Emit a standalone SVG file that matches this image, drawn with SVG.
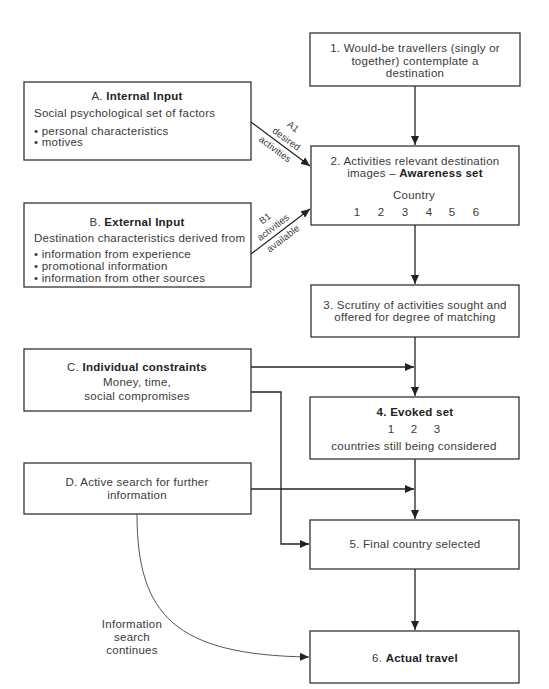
<svg xmlns="http://www.w3.org/2000/svg" width="549" height="689" viewBox="0 0 549 689">
<style>
.box{fill:#fff;stroke:#333;stroke-width:1.3}
text{font-family:"Liberation Sans",Arial,sans-serif;font-size:11.5px;letter-spacing:0.25px;fill:#3a3a3a}
.c{text-anchor:middle}
.b{font-weight:bold;fill:#222}
.lbl{font-size:9.5px;letter-spacing:0.1px}
.ln{fill:none;stroke:#222;stroke-width:1.3}
.cv{fill:none;stroke:#555;stroke-width:1}
</style>
<defs>
<marker id="ah" markerWidth="10" markerHeight="8" refX="9" refY="4" orient="auto" markerUnits="userSpaceOnUse">
<path d="M0,0 L9,4 L0,8 Z" fill="#222"/>
</marker>
</defs>
<rect width="549" height="689" fill="#fff"/>
<g id="connectors">
<path class="ln" d="M415,86 V145" marker-end="url(#ah)"/>
<path class="ln" d="M251,122 L310,166" marker-end="url(#ah)"/>
<path class="ln" d="M251,254 L310,209" marker-end="url(#ah)"/>
<path class="ln" d="M415,225 V284" marker-end="url(#ah)"/>
<path class="ln" d="M415,337 V396" marker-end="url(#ah)"/>
<path class="ln" d="M251,367 H414" marker-end="url(#ah)"/>
<path class="ln" d="M251,392 H281 V544 H309" marker-end="url(#ah)"/>
<path class="ln" d="M415,459 V519" marker-end="url(#ah)"/>
<path class="ln" d="M251,489 H414" marker-end="url(#ah)"/>
<path class="ln" d="M415,569 V630" marker-end="url(#ah)"/>
<path class="cv" d="M137,514 C137,615 175,655 309,657" marker-end="url(#ah)"/>
<g transform="translate(281,144.5) rotate(36.87)">
<text class="c lbl" x="-1" y="-18.5">A1</text>
<text class="c lbl" x="1" y="-4.5">desired</text>
<text class="c lbl" x="-2" y="10.5">activities</text>
</g>
<g transform="translate(281,231) rotate(-37.5)">
<text class="c lbl" x="-5" y="-16.5">B1</text>
<text class="c lbl" x="-4" y="-4.5">activities</text>
<text class="c lbl" x="-3" y="10.5">available</text>
</g>
<text class="c" x="132" y="628">Information</text>
<text class="c" x="132" y="641">search</text>
<text class="c" x="132" y="654">continues</text>
</g>
<g id="node1">
<rect class="box" x="310" y="33" width="210" height="53"/>
<text class="c" x="415" y="52">1. Would-be travellers (singly or</text>
<text class="c" x="415" y="65">together) contemplate a</text>
<text class="c" x="415" y="77">destination</text>
</g>
<g id="nodeA">
<rect class="box" x="24" y="82" width="227" height="78"/>
<text class="c" x="137" y="100">A. <tspan class="b">Internal Input</tspan></text>
<text x="34" y="117">Social psychological set of factors</text>
<text x="34" y="135">• personal characteristics</text>
<text x="34" y="146">• motives</text>
</g>
<g id="nodeB">
<rect class="box" x="24" y="203" width="227" height="84"/>
<text class="c" x="137" y="226">B. <tspan class="b">External Input</tspan></text>
<text x="34" y="242">Destination characteristics derived from</text>
<text x="34" y="258">• information from experience</text>
<text x="34" y="270">• promotional information</text>
<text x="34" y="282">• information from other sources</text>
</g>
<g id="node2">
<rect class="box" x="311" y="146" width="208" height="79"/>
<text class="c" x="415" y="165">2. Activities relevant destination</text>
<text class="c" x="415" y="177">images – <tspan class="b">Awareness set</tspan></text>
<text class="c" x="414" y="199">Country</text>
<text class="c" x="357" y="216">1</text>
<text class="c" x="381" y="216">2</text>
<text class="c" x="405" y="216">3</text>
<text class="c" x="429" y="216">4</text>
<text class="c" x="452" y="216">5</text>
<text class="c" x="476" y="216">6</text>
</g>
<g id="node3">
<rect class="box" x="311" y="285" width="208" height="52"/>
<text class="c" x="415" y="309">3. Scrutiny of activities sought and</text>
<text class="c" x="415" y="321">offered for degree of matching</text>
</g>
<g id="nodeC">
<rect class="box" x="24" y="349" width="227" height="62"/>
<text class="c" x="137" y="371">C. <tspan class="b">Individual constraints</tspan></text>
<text class="c" x="137" y="386">Money, time,</text>
<text class="c" x="137" y="400">social compromises</text>
</g>
<g id="node4">
<rect class="box" x="310" y="397" width="209" height="62"/>
<text class="c b" x="415" y="416">4. Evoked set</text>
<text class="c" x="391" y="433">1</text>
<text class="c" x="414" y="433">2</text>
<text class="c" x="437" y="433">3</text>
<text class="c" x="414" y="450">countries still being considered</text>
</g>
<g id="nodeD">
<rect class="box" x="24" y="463" width="227" height="51"/>
<text class="c" x="137" y="486">D. Active search for further</text>
<text class="c" x="137" y="499">information</text>
</g>
<g id="node5">
<rect class="box" x="310" y="520" width="209" height="49"/>
<text class="c" x="415" y="548">5. Final country selected</text>
</g>
<g id="node6">
<rect class="box" x="310" y="631" width="209" height="52"/>
<text class="c" x="415" y="662">6. <tspan class="b">Actual travel</tspan></text>
</g>
</svg>
